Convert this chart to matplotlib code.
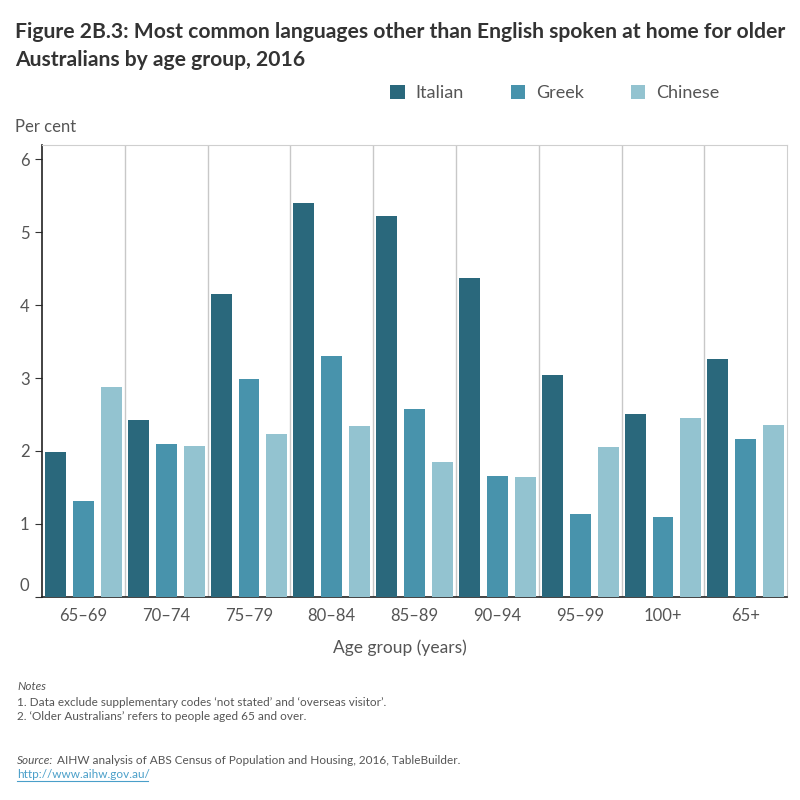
import matplotlib
matplotlib.use("Agg")
import matplotlib.pyplot as plt
import matplotlib.transforms as mtrans
import numpy as np

categories = ["65–69", "70–74", "75–79", "80–84", "85–89", "90–94", "95–99", "100+", "65+"]
italian = [1.98, 2.43, 4.15, 5.40, 5.22, 4.37, 3.04, 2.51, 3.26]
greek = [1.32, 2.09, 2.99, 3.30, 2.58, 1.66, 1.14, 1.10, 2.17]
chinese = [2.88, 2.07, 2.23, 2.34, 1.85, 1.65, 2.06, 2.45, 2.36]
series_names = ["Italian", "Greek", "Chinese"]
colors = ["#2a687c", "#4893ac", "#93c3d0"]
yticks = [0, 1, 2, 3, 4, 5, 6]

plt.rcParams['font.family'] = ['Lato', 'DejaVu Sans']

fig = plt.figure(figsize=(8, 8), dpi=100)
ax = fig.add_axes([0.0525, 0.254, 0.9315, 0.565])

x = np.arange(len(categories))
w = 0.253
off = 0.337
for i, (vals, c, n) in enumerate(zip([italian, greek, chinese], colors, series_names)):
    ax.bar(x + (i - 1) * off, vals, width=w, color=c, label=n, zorder=3)

ax.set_xlim(-0.5, len(categories) - 0.5)
ax.set_ylim(0, 6.2)
ax.set_yticks(yticks)
ax.set_yticklabels([str(t) for t in yticks], fontsize=12, color="#555555")
ax.tick_params(axis='y', length=5, color="#333333", pad=4)
ax.set_xticks(x)
ax.set_xticklabels(categories, fontsize=12, color="#555555")
ax.tick_params(axis='x', length=0, pad=8)
lbl0 = ax.get_yticklabels()[0]
lbl0.set_transform(lbl0.get_transform() + mtrans.ScaledTranslation(0, 12/100, fig.dpi_scale_trans))

for xi in x[:-1]:
    ax.axvline(xi + 0.5, color="#c8c8c8", lw=1.0, zorder=1)

ax.spines['left'].set_color("#222222")
ax.spines['bottom'].set_color("#222222")
ax.spines['left'].set_linewidth(1.2)
ax.spines['bottom'].set_linewidth(1.2)
ax.spines['top'].set_color("#cfcfcf")
ax.spines['right'].set_color("#cfcfcf")

fig.text(0.5, 1 - 648/800, "Age group (years)", fontsize=12.5, color="#555555", va='center', ha='center')

fig.text(15/800, 1 - 32/800, "Figure 2B.3: Most common languages other than English spoken at home for older",
         fontsize=15.2, fontweight='bold', color="#333333", va='center', ha='left')
fig.text(15/800, 1 - 60/800, "Australians by age group, 2016",
         fontsize=15.2, fontweight='bold', color="#333333", va='center', ha='left')

leg = fig.legend(loc='center', bbox_to_anchor=(555/800, 1 - 93/800), ncol=3, frameon=False,
                 fontsize=13, handlelength=0.8, handleheight=0.8, columnspacing=2.6, handletextpad=0.6)
for t in leg.get_texts():
    t.set_color("#555555")

fig.text(15/800, 1 - 127/800, "Per cent", fontsize=12, color="#555555", va='center', ha='left')

fs = 8.5
fig.text(17/800, 1 - 687/800, "Notes", fontsize=fs, style='italic', color="#555555", va='center')
fig.text(17/800, 1 - 702/800, "1. Data exclude supplementary codes \u2018not stated\u2019 and \u2018overseas visitor\u2019.",
         fontsize=fs, color="#555555", va='center')
fig.text(17/800, 1 - 717/800, "2. \u2018Older Australians\u2019 refers to people aged 65 and over.",
         fontsize=fs, color="#555555", va='center')
fig.text(17/800, 1 - 760/800, "Source:", fontsize=fs, style='italic', color="#555555", va='center')
fig.text(57/800, 1 - 760/800, "AIHW analysis of ABS Census of Population and Housing, 2016, TableBuilder.",
         fontsize=fs, color="#555555", va='center')
fig.text(17/800, 1 - 775/800, "http://www.aihw.gov.au/", fontsize=fs, color="#4a9fc9", va='center')
fig.add_artist(plt.Line2D([17/800, 148/800], [1 - 781/800, 1 - 781/800], color="#4a9fc9", lw=0.8))

fig.savefig("out.png", dpi=100)
